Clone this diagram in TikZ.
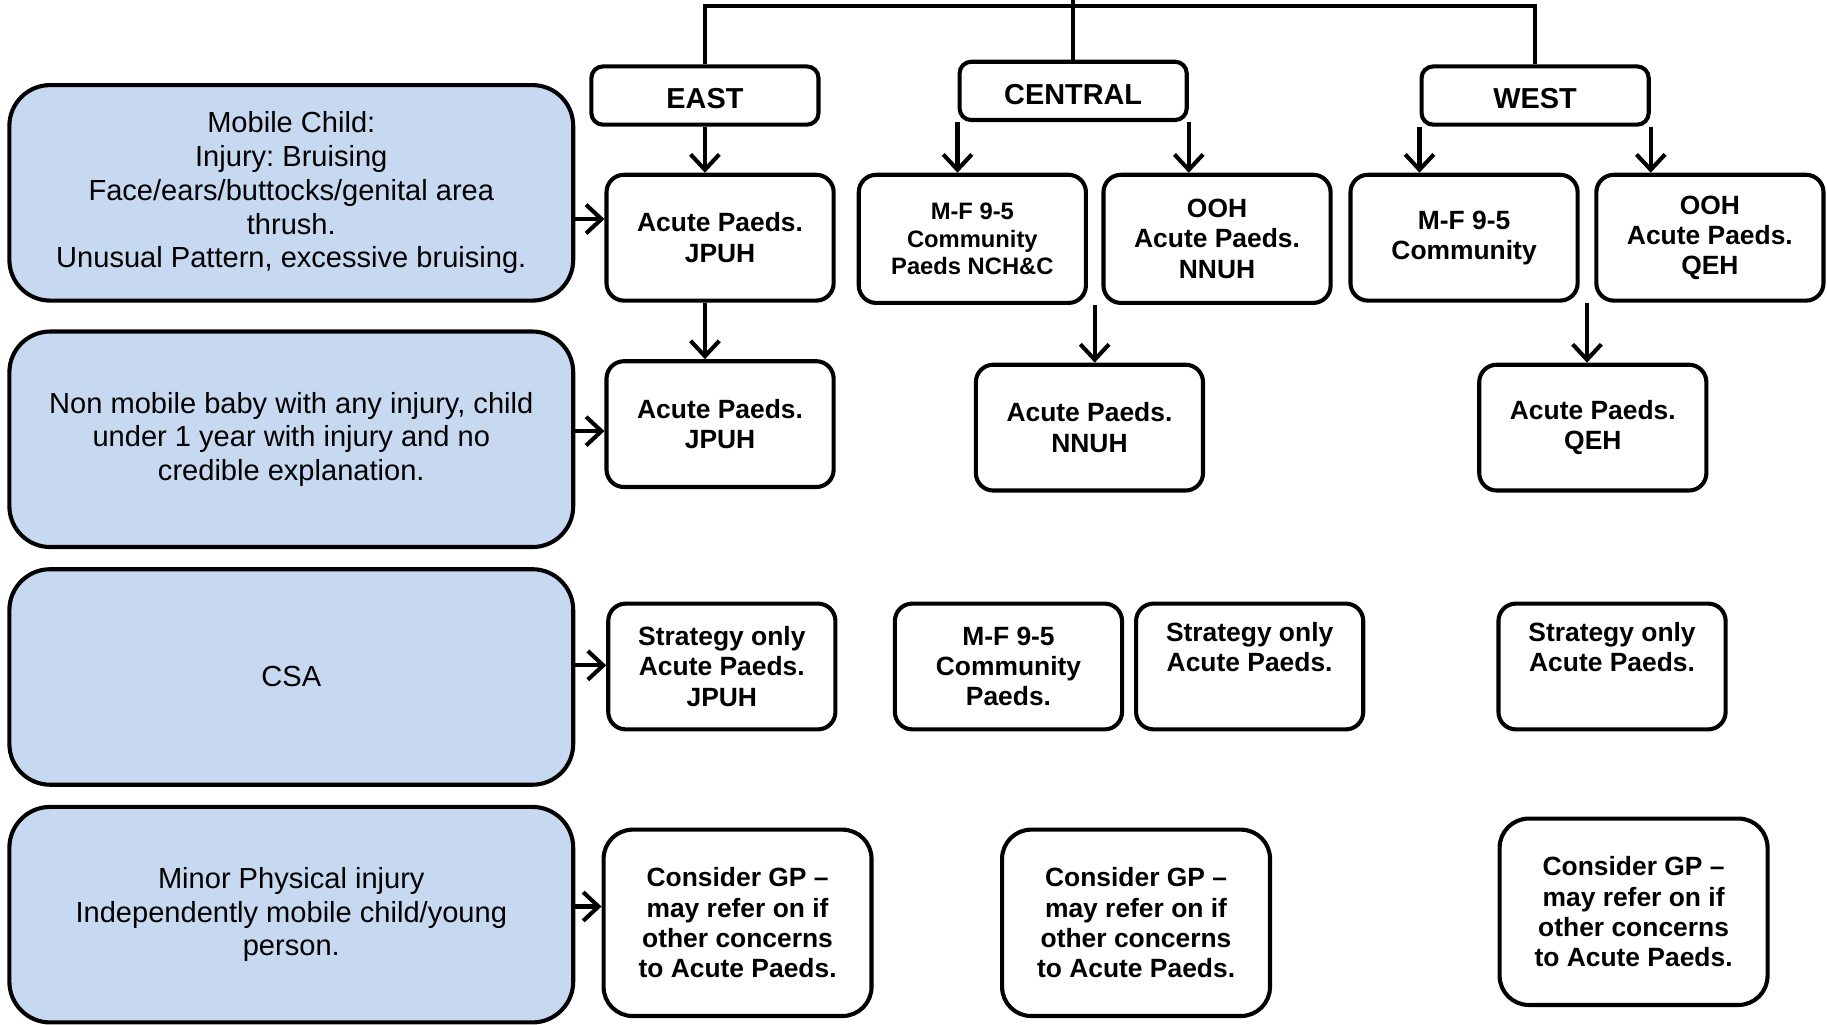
\documentclass[tikz,border=0pt]{standalone}
\usepackage{fontspec}
\setmainfont{Liberation Sans}
\usetikzlibrary{arrows.meta,calc}
\definecolor{caseblue}{RGB}{198,217,240}
\frenchspacing

\begin{document}
\begin{tikzpicture}[x=0.02cm,y=-0.02cm,
		casebox/.style={draw,line width=2pt,rounded corners=0.7cm,fill=caseblue,minimum width=9.68cm,minimum height=3.7cm,align=center,font=\fontsize{14.2}{16.5}\selectfont},
		areabox/.style={draw,line width=2pt,rounded corners=0.2cm,fill=white,minimum width=3.9cm,minimum height=1cm,text height=13pt,text depth=0pt,font=\bfseries\fontsize{14.1}{16}\selectfont},
		servbox/.style={draw,line width=2pt,rounded corners=0.3cm,fill=white,minimum width=3.9cm,minimum height=2.16cm,align=center,font=\bfseries\fontsize{12.9}{14.8}\selectfont},
		gpbox/.style={servbox,rounded corners=0.5cm,minimum width=4.6cm,minimum height=3.2cm},
		arr/.style={line width=2pt,-{Straight Barb[length=7.5pt,width=14pt]}}]
		\useasboundingbox (0,0) rectangle (1568,879);
		%areas
		\node[areabox] (east) at (605,82) {EAST};
		\node[areabox] (central) at (921,78) {CENTRAL};
		\node[areabox] (west) at (1317.5,82) {WEST};
		\coordinate (top) at (921,0);
		\coordinate (bar) at (921,5);
		\draw[line width=1.9pt] (east.north) -- (east.north |- bar) -- (west.north |- bar) -- (west.north);
		\draw[line width=1.9pt] (central.north) -- (top);
		%cases
		\node[casebox] (cases1) at (250,165.5) {Mobile Child:\\Injury: Bruising\\Face/ears/buttocks/genital area\\thrush.\\Unusual Pattern, excessive bruising.};
		\node[casebox] (cases2) at (250,377) {Non mobile baby with any injury, child\\under 1 year with injury and no\\credible explanation.};
		\node[casebox] (cases3) at (250,581) {CSA};
		\node[casebox] (cases4) at (250,785) {Minor Physical injury\\Independently mobile child/young\\person.};
		%east
		\node[servbox] (eastA) at (618,204) {Acute Paeds.\\JPUH};
		\node[servbox] (eastB) at (618,364) {Acute Paeds.\\JPUH};
		\node[servbox] (eastC) at (619.5,572) {Strategy only\\Acute Paeds.\\JPUH};
		\node[gpbox] (eastD) at (633,792) {Consider GP --\\may refer on if\\other concerns\\to Acute Paeds.};
		%central
		\node[servbox,minimum height=2.2cm,font=\bfseries\fontsize{11.6}{13.4}\selectfont] (cmf) at (834.5,205) {M-F 9-5\\Community\\Paeds NCH\&C};
		\node[servbox,minimum height=2.2cm] (cooh) at (1044.5,205) {OOH\\Acute Paeds.\\NNUH};
		\node[servbox] (cnnuh) at (935,367) {Acute Paeds.\\NNUH};
		\node[servbox] (ccomm) at (865.5,572) {M-F 9-5\\Community\\Paeds.};
		\node[servbox] (cstrat) at (1072.5,572) {Strategy only\\Acute Paeds.\\\strut};
		\node[gpbox] (cgp) at (975,792) {Consider GP --\\may refer on if\\other concerns\\to Acute Paeds.};
		%west
		\node[servbox] (wmf) at (1256.5,204) {M-F 9-5\\Community};
		\node[servbox] (wooh) at (1467.5,204) {OOH\\Acute Paeds.\\QEH};
		\node[servbox] (wqeh) at (1367,367) {Acute Paeds.\\QEH};
		\node[servbox] (wstrat) at (1383.5,572) {Strategy only\\Acute Paeds.\\\strut};
		\node[gpbox] (wgp) at (1402,782.5) {Consider GP --\\may refer on if\\other concerns\\to Acute Paeds.};
		%arrows
		\draw[arr] (cases1.east |- 0,188) -- (eastA.west |- 0,188);
		\draw[arr] (cases2.east |- 0,370) -- (eastB.west |- 0,370);
		\draw[arr] (cases3.east |- 0,571) -- (eastC.west |- 0,571);
		\draw[arr] (cases4.east |- 0,778) -- (eastD.west |- 0,778);
		\draw[arr] (east.south) -- (east.south |- eastA.north);
		\draw[arr] (east.south |- eastA.south) -- (east.south |- eastB.north);
		\draw[arr] (central.south west) -- (central.south west |- cmf.north);
		\draw[arr] (central.south east) -- (central.south east |- cooh.north);
		\draw[arr] (west.south west) -- (west.south west |- wmf.north);
		\draw[arr] (west.south east) -- (west.south east |- wooh.north);
		\coordinate (cgap) at ($(cmf.south east)!0.5!(cooh.south west)$);
		\coordinate (wgap) at ($(wmf.south east)!0.5!(wooh.south west)$);
		\draw[arr] (cgap) -- (cgap |- cnnuh.north);
		\draw[arr] (wgap) -- (wgap |- wqeh.north);
\end{tikzpicture}
\end{document}
